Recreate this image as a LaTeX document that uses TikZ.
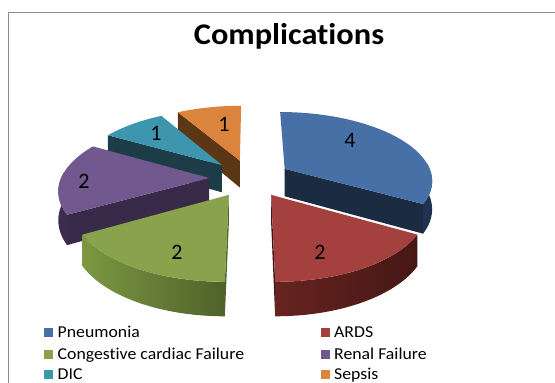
\documentclass[tikz,border=0pt]{standalone}
\usepackage{fontspec}
\setmainfont[Ligatures=NoCommon,Contextuals=NoAlternate]{Carlito}
\newfontfamily\titlefont[FakeStretch=1.08,Ligatures=NoCommon,Contextuals=NoAlternate]{Carlito}
\newfontfamily\legfont[FakeStretch=1.07,Ligatures=NoCommon,Contextuals=NoAlternate]{Carlito}
\definecolor{bluetop}{HTML}{4670A6}
\definecolor{bluewall}{HTML}{1B2B42}
\definecolor{blueside}{HTML}{1E3350}
\definecolor{redtop}{HTML}{A4403D}
\definecolor{redwall}{HTML}{3E1514}
\definecolor{redsideA}{HTML}{66241F}
\definecolor{redsideB}{HTML}{461716}
\definecolor{greentop}{HTML}{88A34B}
\definecolor{greenwall}{HTML}{4F6229}
\definecolor{greensideA}{HTML}{7C9842}
\definecolor{greensideB}{HTML}{4E6229}
\definecolor{purpletop}{HTML}{71588F}
\definecolor{purplewall}{HTML}{3A2A4A}
\definecolor{purpleside}{HTML}{3D2C50}
\definecolor{tealtop}{HTML}{3E96AE}
\definecolor{tealwall}{HTML}{1C3D48}
\definecolor{orangetop}{HTML}{DA843E}
\definecolor{orangewall}{HTML}{5B3716}
\definecolor{framegray}{HTML}{8C8C8C}
\newcommand\SetSlice[2]{%
  \pgfmathsetmacro\sEu{0.276*sin((#1+#2)/2)}%
  \pgfmathsetmacro\sEv{-0.276*cos((#1+#2)/2)}}
\newcommand\TopFace[3]{%
  \fill[#3] ({PX(\sEu,\sEv)},{PY(\sEu,\sEv)}) --
    plot[domain=#1:#2,samples=50] ({PX(sin(\x)+(\sEu),-cos(\x)+(\sEv))},{PY(sin(\x)+(\sEu),-cos(\x)+(\sEv))}) -- cycle;}
\newcommand\OuterSide[3]{%
  \path[#3] plot[domain=#1:#2,samples=40] ({PX(sin(\x)+(\sEu),-cos(\x)+(\sEv))},{PY(sin(\x)+(\sEu),-cos(\x)+(\sEv))}) --
    plot[domain=#2:#1,samples=40] ({PX(sin(\x)+(\sEu),-cos(\x)+(\sEv))},{PB(sin(\x)+(\sEu),-cos(\x)+(\sEv))}) -- cycle;}
\newcommand\Wall[2]{%
  \fill[#2] ({PX(\sEu,\sEv)},{PY(\sEu,\sEv)}) --
    ({PX(sin(#1)+(\sEu),-cos(#1)+(\sEv))},{PY(sin(#1)+(\sEu),-cos(#1)+(\sEv))}) --
    ({PX(sin(#1)+(\sEu),-cos(#1)+(\sEv))},{PB(sin(#1)+(\sEu),-cos(#1)+(\sEv))}) --
    ({PX(\sEu,\sEv)},{PB(\sEu,\sEv)}) -- cycle;}
\begin{document}
\begin{tikzpicture}[x=1pt,y=-1pt,
  declare function={
    PX(\u,\v)=250+148*\u/(1-0.152*\v);
    PY(\u,\v)=178+68*\v/(1-0.152*\v);
    PB(\u,\v)=178+(68*\v+28)/(1-0.152*\v);
  },
  lbl/.style={font=\fontsize{22}{22}\selectfont, inner sep=0pt},
  legtext/.style={font=\legfont\fontsize{16.6}{18}\selectfont, anchor=base west, inner sep=0pt},
  legbox/.style={minimum size=9pt, inner sep=0pt, anchor=south west}
]
\useasboundingbox (0,0) rectangle (555,383);
\fill[white] (0,0) rectangle (555,383);
\coordinate (f1) at (8,383);
\coordinate (f2) at (8,12);
\coordinate (f3) at (555,12);
\draw[framegray, line width=1pt] (f1) -- (f2) -- (f3);

\node[font=\titlefont\bfseries\fontsize{30}{30}\selectfont, anchor=base, inner sep=0pt] (title) at (289,44.3) {Complications};

% Sepsis
\SetSlice{330}{360}
\Wall{330}{orangewall}
\TopFace{330}{360}{orangetop}
% DIC
\SetSlice{300}{330}
\Wall{300}{tealwall}
\TopFace{300}{330}{tealtop}
% Renal Failure
\SetSlice{240}{300}
\OuterSide{240}{275}{fill=purpleside}
\Wall{240}{purplewall}
\TopFace{240}{300}{purpletop}
% Pneumonia
\SetSlice{0}{120}
\OuterSide{85}{120}{fill=blueside}
\Wall{120}{bluewall}
\TopFace{0}{120}{bluetop}
% Congestive cardiac failure
\SetSlice{180}{240}
\Wall{180}{greenwall}
\OuterSide{180}{240}{left color=greensideA, right color=greensideB}
\TopFace{180}{240}{greentop}
% ARDS
\SetSlice{120}{180}
\Wall{180}{redwall}
\OuterSide{120}{180}{left color=redsideA, right color=redsideB}
\TopFace{120}{180}{redtop}

\node[lbl] (n4) at (350,140) {4};
\node[lbl] (n2a) at (320,252) {2};
\node[lbl] (n2c) at (177,252) {2};
\node[lbl] (n2r) at (84,181) {2};
\node[lbl] (n1d) at (156,133) {1};
\node[lbl] (n1s) at (224,124) {1};

\node[legbox, fill=bluetop] (k1) at (43.5,337) {};
\node[legtext] (t1) at (57.5,337) {Pneumonia};
\node[legbox, fill=greentop] (k2) at (43.5,359) {};
\node[legtext] (t2) at (57.5,359) {Congestive cardiac Failure};
\node[legbox, fill=tealtop] (k3) at (43.5,379) {};
\node[legtext] (t3) at (57.5,379) {DIC};
\node[legbox, fill=redtop] (k4) at (321,337) {};
\node[legtext] (t4) at (334,337) {ARDS};
\node[legbox, fill=purpletop] (k5) at (321,359) {};
\node[legtext] (t5) at (334,359) {Renal Failure};
\node[legbox, fill=orangetop] (k6) at (321,379) {};
\node[legtext] (t6) at (334,379) {Sepsis};
\end{tikzpicture}
\end{document}
